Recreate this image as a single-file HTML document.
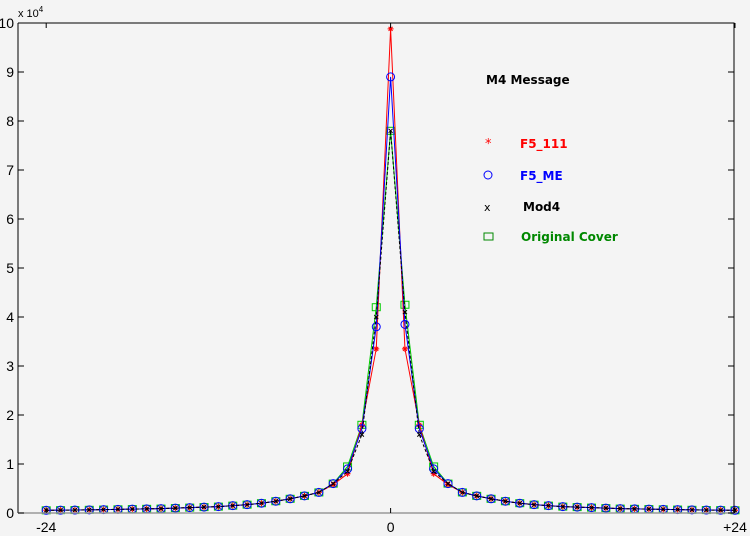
<!DOCTYPE html>
<html><head><meta charset="utf-8"><style>
body{margin:0;background:#f4f4f4;}
svg{display:block;font-family:"Liberation Sans",sans-serif;}
.lg{font-family:"DejaVu Sans","Liberation Sans",sans-serif;font-size:12px;font-weight:bold;}
</style></head><body>
<svg id="chart" width="750" height="536">
<rect width="750" height="536" fill="#f4f4f4"/>
<g id="marks"></g>
<g id="axes"></g>
<text x="18" y="17" font-size="11" fill="#000">x 10<tspan dy="-5" font-size="8">4</tspan></text>
<g class="lg">
<text x="486" y="84" fill="#000">M4 Message</text>
<g><text x="485" y="148" fill="#f00" font-size="13" font-weight="normal">*</text><text x="520" y="148" fill="#f00">F5_111</text></g>
<g><circle cx="488" cy="175" r="4" fill="none" stroke="#00f"/><text x="520" y="180" fill="#00f">F5_ME</text></g>
<g><text x="484" y="211" fill="#000" font-size="11" font-weight="normal">x</text><text x="523" y="211" fill="#000">Mod4</text></g>
<g><rect x="484" y="233" width="9" height="7" fill="none" stroke="#080"/><text x="521" y="241" fill="#080">Original Cover</text></g>
</g>
</svg>
<script>
const xs=[];for(let k=-24;k<=24;k++)xs.push(k);
const tail=[0.055,0.058,0.06,0.065,0.07,0.075,0.08,0.085,0.09,0.1,0.11,0.12,0.13,0.15,0.17,0.2,0.24,0.29,0.35,0.42];
const f5_111_center=[0.58,0.8,1.8,3.35,9.88,3.35,1.8,0.8,0.58];
const f5_me_center=[0.6,0.9,1.72,3.8,8.9,3.85,1.72,0.9,0.6];
const mod4_center=[0.6,0.85,1.6,4.0,7.8,4.1,1.6,0.85,0.6];
const orig_center=[0.6,0.95,1.8,4.2,7.8,4.25,1.8,0.95,0.6];
const yTicks=[0,1,2,3,4,5,6,7,8,9,10];
const xTickLabels=[["-24",-24],["0",0],["+24",24]];
function full(c){return tail.concat(c,tail.slice().reverse());}
const X=v=>390.6+(v)*14.35, Y=v=>513-v*49;
const NS="http://www.w3.org/2000/svg";
const marks=document.getElementById('marks'),axes=document.getElementById('axes');
function mk(t,a,p){const e=document.createElementNS(NS,t);for(const k in a)e.setAttribute(k,a[k]);(p||marks).appendChild(e);return e;}
const series=[
 {n:'original-cover',d:full(orig_center),c:'#0c0',dash:'',m:'sq'},
 {n:'f5-111',d:full(f5_111_center),c:'#f00',dash:'',m:'star'},
 {n:'f5-me',d:full(f5_me_center),c:'#00f',dash:'',m:'circ'},
 {n:'mod4',d:full(mod4_center),c:'#000',dash:'3,2',m:'x'}];
series.forEach(s=>{
 const g=mk('g',{});
 
 
 const pts=xs.map((x,i)=>X(x)+','+Y(s.d[i])).join(' ');
 const l=mk('polyline',{points:pts,fill:'none',stroke:s.c,'stroke-width':1,'stroke-dasharray':s.dash},g);
 
 
 xs.forEach((x,i)=>{const cx=X(x),cy=Y(s.d[i]);let e;
  if(s.m==='sq')e=mk('rect',{x:cx-4,y:cy-3.5,width:8,height:7,fill:'none',stroke:s.c},g);
  else if(s.m==='circ')e=mk('circle',{cx:cx,cy:cy,r:4,fill:'none',stroke:s.c},g);
  else if(s.m==='star')e=mk('path',{d:`M${cx-3},${cy}H${cx+3}M${cx},${cy-3}V${cy+3}M${cx-2},${cy-2}L${cx+2},${cy+2}M${cx-2},${cy+2}L${cx+2},${cy-2}`,stroke:s.c},g);
  else e=mk('path',{d:`M${cx-2},${cy-2}L${cx+2},${cy+2}M${cx-2},${cy+2}L${cx+2},${cy-2}`,stroke:s.c},g);
  
  });
});
const L=18,R=734,T=23,B=513;
let e=mk('path',{d:`M${L},${T}H${R}V${B}`,stroke:'#000',fill:'none'},axes);


e=mk('line',{x1:L,y1:T,x2:L,y2:B,stroke:'#000'},axes);


e=mk('line',{x1:L,y1:B,x2:R,y2:B,stroke:'#999','stroke-width':1.5},axes);


yTicks.forEach(v=>{const y=Y(v);
 mk('path',{d:`M${L},${y}h6M${R},${y}h-6`,stroke:'#000'},axes);
 const t=mk('text',{x:14,y:y+5,'text-anchor':'end','font-size':14},axes);t.textContent=v;
 
 });
xTickLabels.forEach(([s,v])=>{const x=X(v);
 mk('path',{d:`M${x},${B}v-5M${x},${T}v5`,stroke:'#000'},axes);
 const t=mk('text',{x:x,y:B+19,'text-anchor':'middle','font-size':14},axes);t.textContent=s;
 
 });
</script>
</body></html>
